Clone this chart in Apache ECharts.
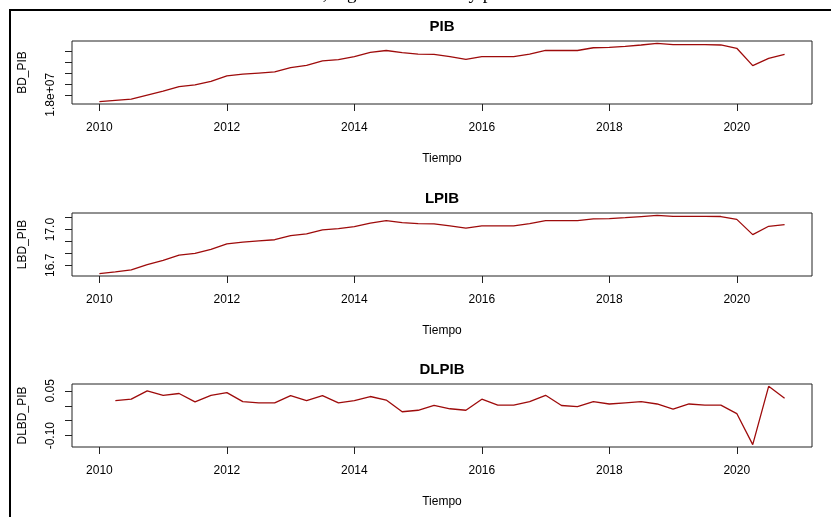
<!DOCTYPE html>
<html><head><meta charset="utf-8">
<script src="https://cdn.jsdelivr.net/npm/echarts@6/dist/echarts.min.js"></script>
<style>html,body{margin:0;padding:0;background:#fff}#c{width:831px;height:517px}</style>
</head><body><div id="c"></div>
<script>
// quarterly time series (ts start 2010 Q1, frequency 4)
const startYear = 2010, frequency = 4;
const xTickValues = [2010, 2012, 2014, 2016, 2018, 2020];
const xAxisName = 'Tiempo';
const panelTitles = ['PIB', 'LPIB', 'DLPIB'];
const yAxisNames = ['BD_PIB', 'LBD_PIB', 'DLBD_PIB'];

const BD_PIB = [
  16750000, 16980000, 17200000, 17950000, 18650000, 19500000, 19800000, 20450000,
  21450000, 21750000, 21950000, 22150000, 22950000, 23350000, 24150000, 24400000,
  24950000, 25700000, 26050000, 25650000, 25400000, 25350000, 24950000, 24450000,
  24950000, 24950000, 24950000, 25400000, 26050000, 26050000, 26050000, 26550000,
  26600000, 26800000, 27050000, 27350000, 27100000, 27100000, 27100000, 27050000,
  26450000, 23300000, 24600000, 25350000
];
const LPIB = [
  16.630, 16.645, 16.662, 16.705, 16.742, 16.785, 16.800, 16.835,
  16.880, 16.895, 16.905, 16.915, 16.950, 16.965, 16.998, 17.008,
  17.025, 17.055, 17.075, 17.058, 17.050, 17.048, 17.032, 17.012,
  17.032, 17.032, 17.032, 17.050, 17.075, 17.075, 17.075, 17.090,
  17.092, 17.100, 17.110, 17.120, 17.112, 17.112, 17.112, 17.110,
  17.086, 16.958, 17.028, 17.042
];
// first difference: starts at 2010 Q2
const DLPIB = [
  0.017, 0.022, 0.050, 0.035, 0.041, 0.013, 0.035,
  0.044, 0.014, 0.010, 0.010, 0.034, 0.017, 0.034, 0.010,
  0.017, 0.031, 0.019, -0.020, -0.015, 0.001, -0.010, -0.015,
  0.022, 0.002, 0.002, 0.014, 0.035, 0.001, -0.003, 0.014,
  0.006, 0.010, 0.014, 0.006, -0.011, 0.006, 0.002, 0.002,
  -0.026, -0.130, 0.065, 0.025
];
const yTicks = [
  [18000000, 20000000, 22000000, 24000000, 26000000],
  [16.7, 16.8, 16.9, 17.0, 17.1],
  [-0.10, -0.05, 0.00, 0.05]
];
const yLabels = [
  [18000000],
  [16.7, 17.0],
  [-0.10, 0.05]
];
const yLabelText = [
  v => '1.8e+07',
  v => v.toFixed(1),
  v => v.toFixed(2)
];
const captionText = 'PIB real, logaritmo natural y primera diferencia';

const seriesList = [
  {values: BD_PIB, offset: 0},
  {values: LPIB, offset: 0},
  {values: DLPIB, offset: 1}
];

const FONT = '"Liberation Sans", Arial, sans-serif';
const LINE = '#9e0b0b';
const tops = [41, 213, 384];
const gridLeft = 72, gridWidth = 740, gridHeight = 63;

function rPad(lo, hi) { const p = (hi - lo) * 0.04; return [lo - p, hi + p]; }
const nAll = BD_PIB.length;
const xRange = rPad(startYear, startYear + (nAll - 1) / frequency);

const grids = [], xAxes = [], yAxes = [], series = [], titles = [];
seriesList.forEach((s, i) => {
  const pts = s.values.map((v, k) => [startYear + (k + s.offset) / frequency, v]);
  const yr = rPad(Math.min(...s.values), Math.max(...s.values));
  grids.push({left: gridLeft, top: tops[i], width: gridWidth, height: gridHeight,
    show: true, borderColor: '#222', borderWidth: 1, backgroundColor: 'transparent'});
  xAxes.push({
    type: 'value', gridIndex: i, min: xRange[0], max: xRange[1], position: 'bottom',
    axisLine: {show: false, onZero: false},
    axisTick: {show: true, customValues: xTickValues, length: 7, inside: false,
      lineStyle: {color: '#222', width: 1}},
    axisLabel: {customValues: xTickValues, margin: 18, fontSize: 12, color: '#000',
      fontFamily: FONT, formatter: v => String(v)},
    splitLine: {show: false},
    name: xAxisName, nameLocation: 'middle', nameGap: 49,
    nameTextStyle: {fontSize: 12, color: '#000', fontFamily: FONT}
  });
  yAxes.push({
    type: 'value', gridIndex: i, min: yr[0], max: yr[1], position: 'left',
    axisLine: {show: false, onZero: false},
    axisTick: {show: true, customValues: yTicks[i], length: 7, inside: false,
      lineStyle: {color: '#222', width: 1}},
    axisLabel: {customValues: yLabels[i], rotate: 90, margin: 15, fontSize: 12,
      color: '#000', fontFamily: FONT, formatter: yLabelText[i]},
    splitLine: {show: false},
    name: yAxisNames[i], nameLocation: 'middle', nameGap: 43,
    nameTextStyle: {fontSize: 12, color: '#000', fontFamily: FONT}
  });
  series.push({
    type: 'line', xAxisIndex: i, yAxisIndex: i, data: pts,
    showSymbol: false, symbol: 'none', smooth: false,
    lineStyle: {color: LINE, width: 1.3}, itemStyle: {color: LINE},
    silent: true
  });
  titles.push({
    text: panelTitles[i], left: 442, top: tops[i] - 22, textAlign: 'center', padding: 0,
    textStyle: {fontSize: 15, fontWeight: 'bold', color: '#000', fontFamily: FONT}
  });
});
titles.push({
  text: captionText, left: 260, top: -15, padding: 0,
  textStyle: {fontSize: 19, fontWeight: 'normal', color: '#000',
    fontFamily: '"Liberation Serif", "Times New Roman", serif'}
});

const chart = echarts.init(document.getElementById('c'), null, {renderer: 'canvas'});
chart.setOption({
  animation: false,
  backgroundColor: '#fff',
  title: titles,
  grid: grids,
  xAxis: xAxes,
  yAxis: yAxes,
  series: series,
  graphic: [{
    type: 'rect', silent: true, z: 100,
    shape: {x: 10, y: 10, width: 900, height: 600},
    style: {fill: 'none', stroke: '#000', lineWidth: 2}
  }]
});
</script>
</body></html>
